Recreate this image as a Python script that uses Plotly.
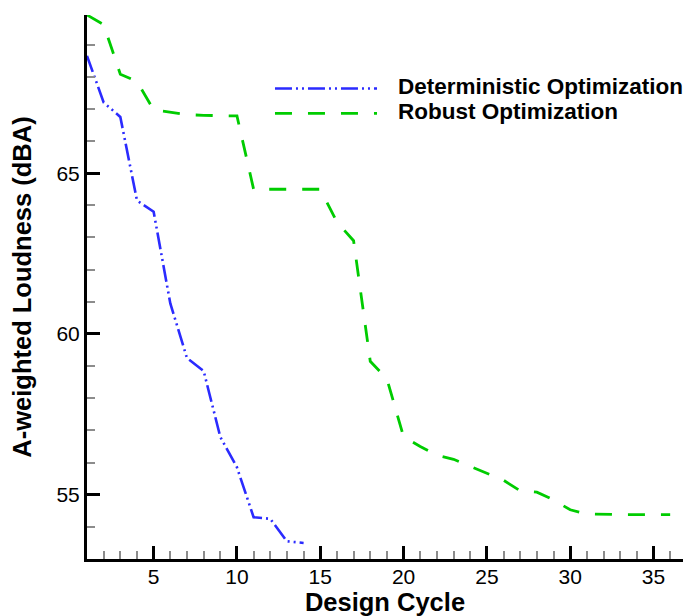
import plotly.graph_objects as go

# Design cycle indices
det_cycles = list(range(1, 15))
rob_cycles = list(range(1, 37))

# A-weighted loudness (dBA) per design cycle
det_loudness = [68.65, 67.2, 66.75, 64.15, 63.8, 60.95, 59.25, 58.85,
                56.8, 55.85, 54.3, 54.25, 53.55, 53.5]
rob_loudness = [69.92, 69.62, 68.08, 67.85, 66.97, 66.9, 66.82, 66.8, 66.8,
                66.78, 64.5, 64.5, 64.5, 64.5, 64.5, 63.48, 62.9, 59.15, 58.6,
                56.8, 56.5, 56.23, 56.1, 55.88, 55.66, 55.45, 55.12, 55.08,
                54.84, 54.53, 54.4, 54.38, 54.38, 54.38, 54.38, 54.38]

series_names = ["Deterministic Optimization", "Robust Optimization"]
BLUE = "#2b2bff"
GREEN = "#00cc00"
DASH_DET = "17px,4px,2px,4px,2px,4px"
DASH_ROB = "17px,16px"

fig = go.Figure()
fig.add_trace(go.Scatter(x=det_cycles, y=det_loudness, mode="lines",
                         name=series_names[0],
                         line=dict(color=BLUE, width=2.6, dash=DASH_DET)))
fig.add_trace(go.Scatter(x=rob_cycles, y=rob_loudness, mode="lines",
                         name=series_names[1],
                         line=dict(color=GREEN, width=2.8, dash=DASH_ROB)))

# Hand-built legend with long line samples
legend_rows = [(0.8680, BLUE, DASH_DET, 2.6), (0.8220, GREEN, DASH_ROB, 2.8)]
for (yp, col, dash, w), label in zip(legend_rows, series_names):
    fig.add_shape(type="line", xref="paper", yref="paper",
                  x0=0.3154, x1=0.4866, y0=yp - 0.003, y1=yp - 0.003,
                  line=dict(color=col, width=w, dash=dash))
    fig.add_annotation(xref="paper", yref="paper", x=0.5185, y=yp,
                       xanchor="left", yanchor="middle", showarrow=False,
                       text=f"<b>{label}</b>",
                       font=dict(family="Liberation Sans", size=22.5, color="black"))

axis_common = dict(
    showline=True, linecolor="black", linewidth=3, mirror=False,
    showgrid=False, zeroline=False,
    ticks="inside", ticklen=13, tickwidth=3, tickcolor="black",
    tickfont=dict(family="Liberation Sans", size=21, color="black"),
)

fig.update_xaxes(
    range=[1, 36.77], tick0=0, dtick=5, ticklabelstandoff=-3,
    minor=dict(ticks="inside", ticklen=8, tickwidth=1.5, tickcolor="#8c8c8c", dtick=1, tick0=0),
    title=dict(text="<b>Design Cycle</b>", standoff=9,
               font=dict(family="Liberation Sans", size=25.5, color="black")),
    **axis_common,
)
fig.update_yaxes(
    range=[53.0, 69.92], tick0=0, dtick=5,
    minor=dict(ticks="inside", ticklen=8, tickwidth=1.5, tickcolor="#8c8c8c", dtick=1, tick0=0),
    title=dict(text="<b>A-weighted Loudness (dBA)</b>", standoff=18,
               font=dict(family="Liberation Sans", size=25.5, color="black")),
    **axis_common,
)

fig.update_layout(
    width=683, height=616,
    margin=dict(l=87, r=0, t=15, b=57),
    paper_bgcolor="white", plot_bgcolor="white",
    showlegend=False,
)

fig.write_html("out.html")
